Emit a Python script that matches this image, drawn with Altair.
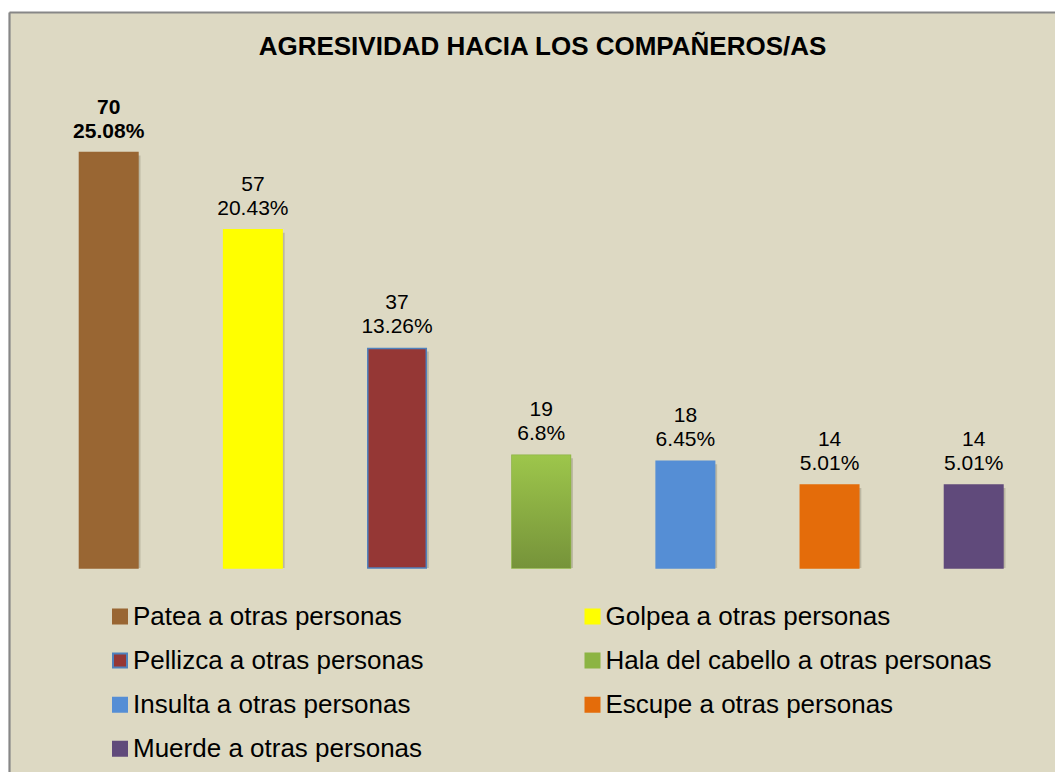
import altair as alt
import pandas as pd

categories = [
    "Patea a otras personas",
    "Golpea a otras personas",
    "Pellizca a otras personas",
    "Hala del cabello a otras personas",
    "Insulta a otras personas",
    "Escupe a otras personas",
    "Muerde a otras personas",
]
counts = [70, 57, 37, 19, 18, 14, 14]
percents = [25.08, 20.43, 13.26, 6.8, 6.45, 5.01, 5.01]
fill_colors = ["#996633", "#FFFF00", "#953735", "#8CB443", "#558ED5", "#E46C0A", "#604A7B"]
stroke_colors = ["#996633", "#FFFF00", "#4F81BD", "#8CB443", "#558ED5", "#E46C0A", "#604A7B"]
title_text = "AGRESIVIDAD HACIA LOS COMPAÑEROS/AS"

df = pd.DataFrame({"cat": categories, "count": counts, "pct": percents})
df["pct_label"] = [f"{p:g}%" for p in percents]

W, H = 1046, 760
baseline_px = 556
px_per_unit = 5.935
y_domain = [-(H - baseline_px) / px_per_unit, baseline_px / px_per_unit]

FONT = "Liberation Sans"
BORDER = "#878787"

border_axis = dict(domain=True, domainColor=BORDER, domainWidth=2.2, ticks=False,
                   labels=False, grid=False, title=None)

x_enc = alt.X(
    "cat:N", sort=categories,
    axis=alt.Axis(orient="top", **border_axis),
    scale=alt.Scale(paddingInner=0.5942, paddingOuter=0.4248, align=0.5752),
)
y_scale = alt.Scale(domain=y_domain, nice=False, zero=False)
y_enc = alt.Y("count:Q", scale=y_scale, axis=alt.Axis(orient="left", **border_axis))

legend = alt.Legend(
    title=None, orient="none", legendX=98, legendY=591.5, columns=2,
    direction="horizontal",
    columnPadding=155.5, rowPadding=18.1, symbolType="square", symbolSize=196,
    symbolStrokeWidth=2, labelFontSize=26, labelFont=FONT, labelColor="black",
    labelOffset=0, padding=0, labelLimit=700, symbolOpacity=1,
)

base = alt.Chart(df)

shadow = base.mark_bar(color="#6e6a55", opacity=0.3, xOffset=2.5, yOffset=3).encode(
    x=x_enc, y=y_enc, y2=alt.datum(0)
)

bars = base.mark_bar(strokeWidth=1.5, opacity=1).encode(
    x=x_enc, y=y_enc, y2=alt.datum(0),
    color=alt.Color("cat:N", sort=categories,
                    scale=alt.Scale(domain=categories, range=fill_colors), legend=legend),
    stroke=alt.Stroke("cat:N", sort=categories,
                      scale=alt.Scale(domain=categories, range=stroke_colors), legend=legend),
)

green = base.transform_filter(alt.datum.cat == categories[3]).mark_bar(
    color=alt.Gradient(
        gradient="linear",
        stops=[alt.GradientStop(color="#9DC64B", offset=0),
               alt.GradientStop(color="#76933A", offset=1)],
        x1=0, x2=0, y1=0, y2=1,
    ),
    strokeWidth=0,
).encode(x=x_enc, y=y_enc, y2=alt.datum(0))

is_first = alt.datum.cat == categories[0]
not_first = alt.datum.cat != categories[0]

def labels(filt, weight):
    src = base.transform_filter(filt)
    n = src.mark_text(dy=-45, baseline="middle", fontSize=21, font=FONT,
                      color="black", fontWeight=weight).encode(
        x=x_enc, y=y_enc, text="count:Q")
    p = src.mark_text(dy=-21, baseline="middle", fontSize=21, font=FONT,
                      color="black", fontWeight=weight).encode(
        x=x_enc, y=y_enc, text="pct_label:N")
    return [n, p]

layers = [shadow, bars, green] + labels(is_first, "bold") + labels(not_first, "normal")

chart = alt.layer(*layers).properties(
    width=W, height=H,
    title=alt.TitleParams(
        title_text, fontSize=26, font=FONT, fontWeight="bold", anchor="middle",
        offset=-61, baseline="middle", color="black", dx=10.5,
    ),
    background="white",
    autosize=alt.AutoSizeParams(type="none"),
    padding={"left": 1, "top": 4, "right": 0, "bottom": 0},
).configure_view(
    stroke=None, fill="#DDD9C3"
)

chart.save("out.html", embed_options={"renderer": "svg", "actions": False})
